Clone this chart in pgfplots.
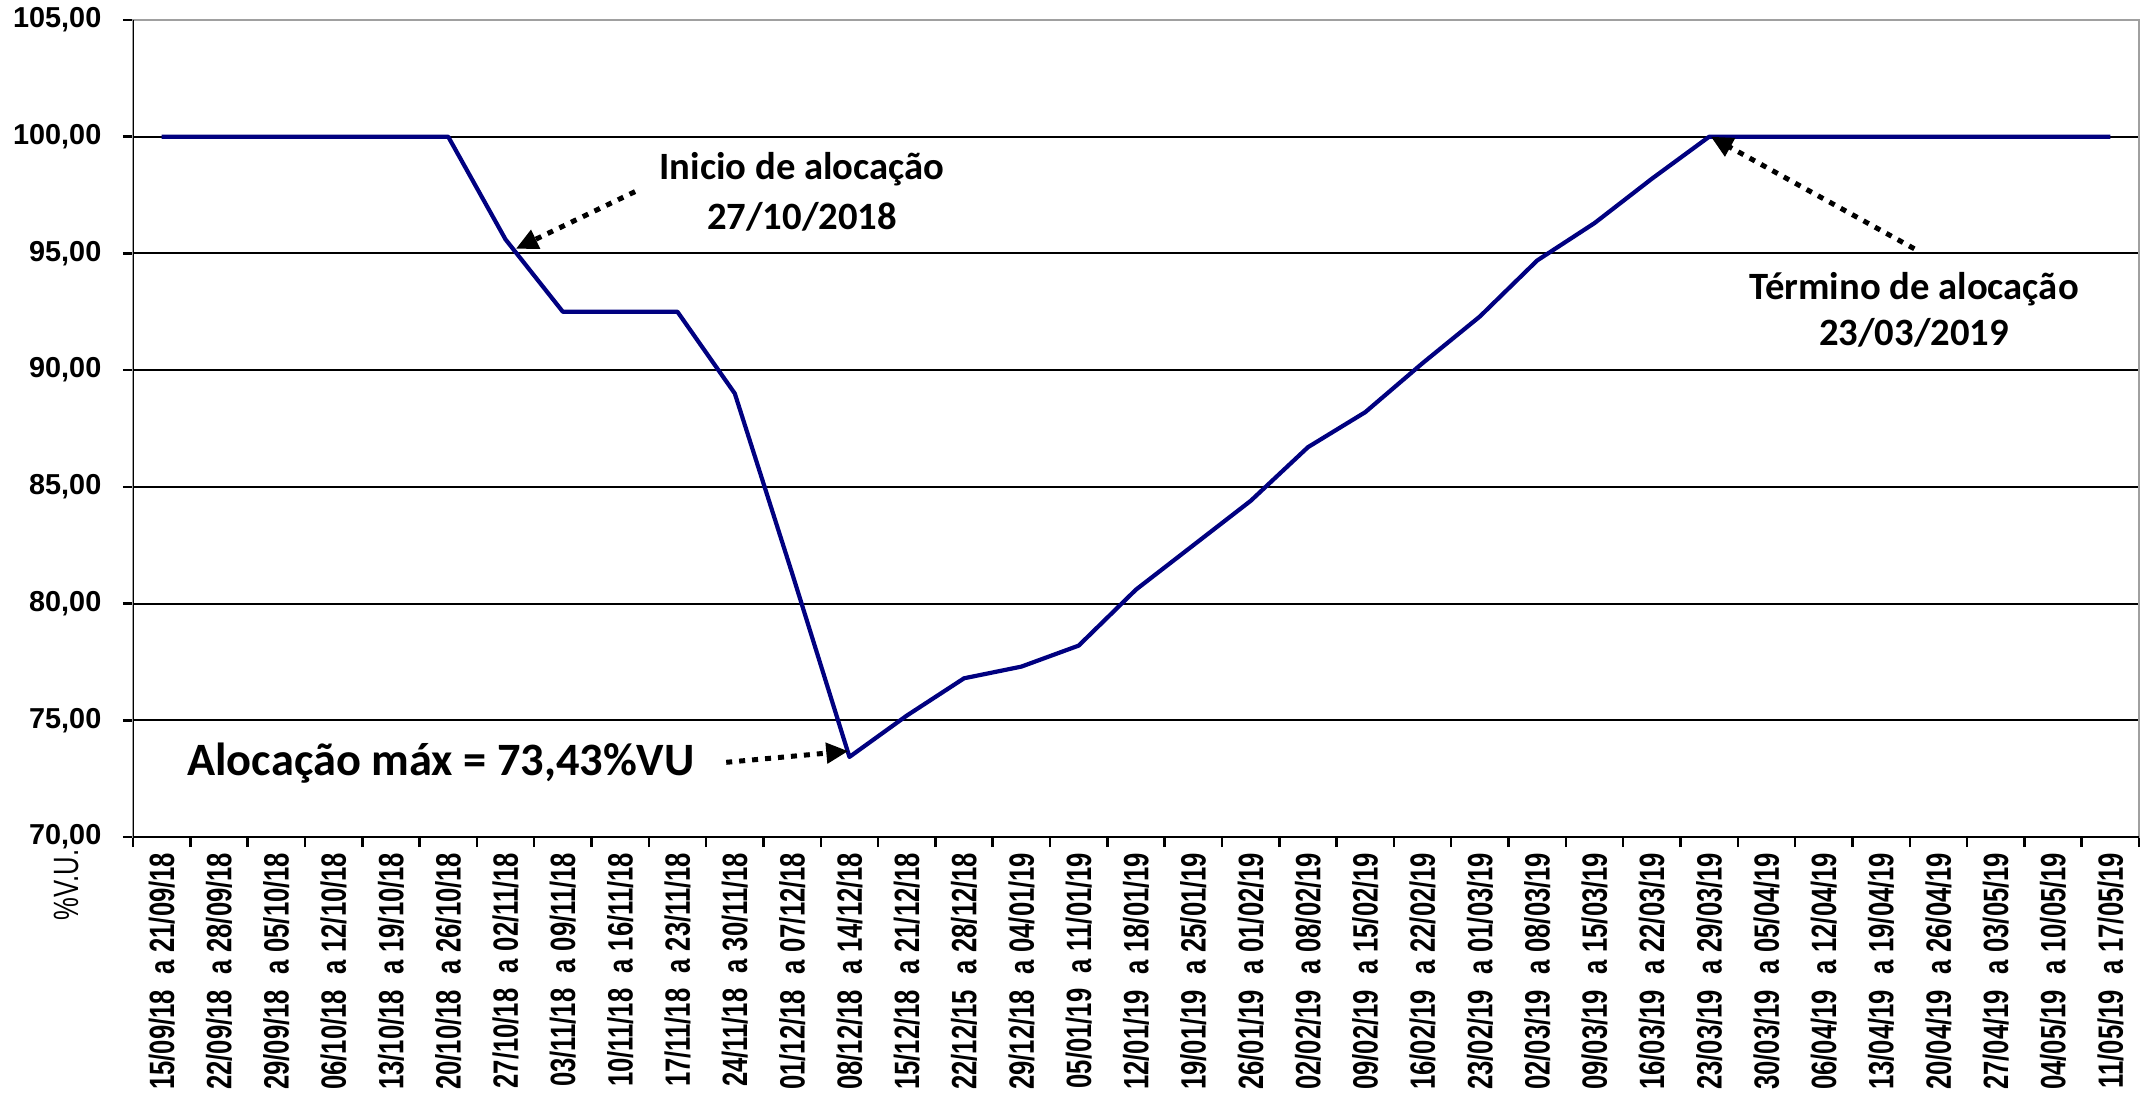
\documentclass[border=0pt]{standalone}
\usepackage{fontspec}
\setmainfont{Liberation Sans}
\newfontfamily\carlito{Carlito}
\usepackage{graphicx}
\usepackage{pgfplots}
\pgfplotsset{compat=1.18}
\usetikzlibrary{arrows.meta}
\definecolor{navyline}{RGB}{0,0,128}
\definecolor{bordergray}{RGB}{160,160,160}
\newcommand{\lbl}[2]{\scalebox{0.73}[1]{#1\hspace{0.6em}a\hspace{0.3em}#2}}
\begin{document}
\begin{tikzpicture}
\useasboundingbox (0,0) rectangle (214.6mm,-109.7mm);
\begin{axis}[
  at={(13.3mm,-83.7mm)}, anchor=south west,
  width=200.6mm, height=81.7mm, scale only axis,
  xmin=-0.5, xmax=34.5, ymin=70, ymax=105,
  xtick={0,...,34},
  xticklabels={\lbl{15/09/18}{21/09/18},\lbl{22/09/18}{28/09/18},\lbl{29/09/18}{05/10/18},\lbl{06/10/18}{12/10/18},\lbl{13/10/18}{19/10/18},\lbl{20/10/18}{26/10/18},\lbl{27/10/18}{02/11/18},\lbl{03/11/18}{09/11/18},\lbl{10/11/18}{16/11/18},\lbl{17/11/18}{23/11/18},\lbl{24/11/18}{30/11/18},\lbl{01/12/18}{07/12/18},\lbl{08/12/18}{14/12/18},\lbl{15/12/18}{21/12/18},\lbl{22/12/15}{28/12/18},\lbl{29/12/18}{04/01/19},\lbl{05/01/19}{11/01/19},\lbl{12/01/19}{18/01/19},\lbl{19/01/19}{25/01/19},\lbl{26/01/19}{01/02/19},\lbl{02/02/19}{08/02/19},\lbl{09/02/19}{15/02/19},\lbl{16/02/19}{22/02/19},\lbl{23/02/19}{01/03/19},\lbl{02/03/19}{08/03/19},\lbl{09/03/19}{15/03/19},\lbl{16/03/19}{22/03/19},\lbl{23/03/19}{29/03/19},\lbl{30/03/19}{05/04/19},\lbl{06/04/19}{12/04/19},\lbl{13/04/19}{19/04/19},\lbl{20/04/19}{26/04/19},\lbl{27/04/19}{03/05/19},\lbl{04/05/19}{10/05/19},\lbl{11/05/19}{17/05/19}},
  minor xtick={-0.5,0.5,...,34.5},
  ytick={70,75,...,105},
  tick align=outside, xtick pos=bottom, ytick pos=left,
  major tick length=1mm, minor tick length=1mm,
  every major x tick/.append style={draw=none},
  every minor x tick/.append style={black, line width=0.25mm},
  every major y tick/.append style={black, line width=0.25mm},
  ymajorgrids=true,
  major y grid style={black, line width=0.2mm},
  axis line style={bordergray, line width=0.25mm},
  xticklabel style={rotate=90, anchor=east, inner sep=0pt, yshift=0pt, font=\fontsize{10}{12}\selectfont\bfseries},
  xticklabel shift=0.5mm,
  yticklabel style={anchor=east, inner sep=0pt, xshift=-2.1mm, font=\fontsize{8.2}{9.6}\selectfont\bfseries,
    /pgf/number format/fixed, /pgf/number format/fixed zerofill, /pgf/number format/precision=2,
    /pgf/number format/use comma, /pgf/number format/assume math mode=true},
]
\addplot[navyline, line width=0.42mm, mark=none, line join=round] coordinates {
(0,100)(1,100)(2,100)(3,100)(4,100)(5,100)(6,95.6)(7,92.5)(8,92.5)(9,92.5)(10,89.0)(11,81.3)(12,73.43)(13,75.2)(14,76.8)(15,77.3)(16,78.2)(17,80.6)(18,82.5)(19,84.4)(20,86.7)(21,88.2)(22,90.3)(23,92.3)(24,94.7)(25,96.3)(26,98.2)(27,100)(28,100)(29,100)(30,100)(31,100)(32,100)(33,100)(34,100)};
\draw[black, line width=0.25mm] (rel axis cs:0,1) -- (rel axis cs:0,0) -- (rel axis cs:1,0);
\draw[black, line width=0.5mm, dash pattern=on 0.6mm off 0.7mm, -{Triangle[length=2.2mm,width=2mm]}] (axis cs:8.26,97.65) -- (axis cs:6.18,95.2);
\draw[black, line width=0.5mm, dash pattern=on 0.6mm off 0.7mm, -{Triangle[length=2.2mm,width=2mm]}] (axis cs:30.58,95.2) -- (axis cs:27.03,100);
\draw[black, line width=0.5mm, dash pattern=on 0.6mm off 0.7mm, -{Triangle[length=2.2mm,width=2mm]}] (axis cs:9.85,73.2) -- (axis cs:11.98,73.68);
\end{axis}
\node[rotate=90, font=\fontsize{10}{12}\selectfont] at (6.6mm,-88.5mm) {\scalebox{0.73}[1]{\%V.U.}};
\node[font=\carlito\bfseries\fontsize{11}{14.2}\selectfont, align=center] at (80.2mm,-19.2mm) {Inicio de alocação\\27/10/2018};
\node[font=\carlito\bfseries\fontsize{11}{13}\selectfont, align=center] at (191.4mm,-31.0mm) {Término de alocação\\23/03/2019};
\node[font=\carlito\bfseries\fontsize{13.2}{15}\selectfont] at (44.1mm,-76.3mm) {Alocação máx = 73,43\%VU};
\end{tikzpicture}
\end{document}
